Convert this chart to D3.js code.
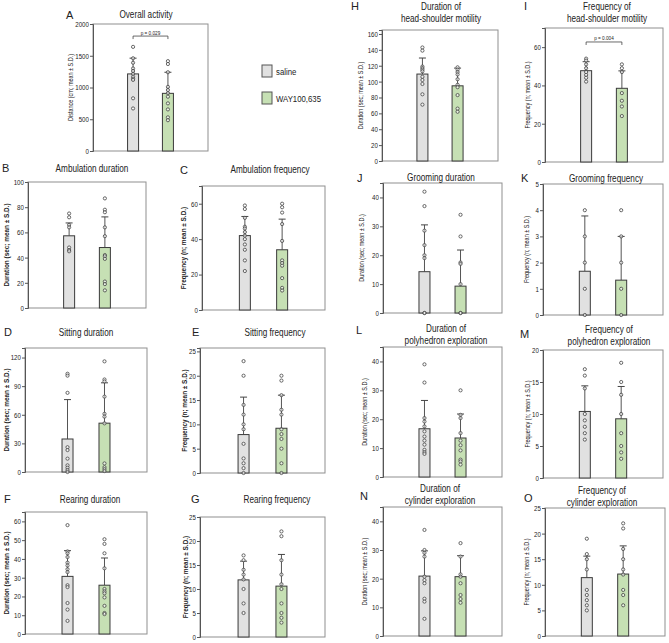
<!DOCTYPE html>
<html>
<head>
<meta charset="utf-8">
<script src="https://cdn.jsdelivr.net/npm/d3@7"></script>
<style>
  body { margin: 0; background: #fff; }
  svg { display: block; }
  text { font-family: "Liberation Sans", Arial, sans-serif; fill: #222; }
</style>
</head>
<body>
<svg id="fig" width="669" height="643"></svg>
<script>
// groups and panels
var groups = ["saline", "WAY100,635"];
var panels = ["A", "B", "C", "D", "E", "F", "G", "H", "I", "J", "K", "L", "M", "N", "O"];
var titles = [
  ["Overall activity"], ["Ambulation duration"], ["Ambulation frequency"],
  ["Sitting duration"], ["Sitting frequency"], ["Rearing duration"], ["Rearing frequency"],
  ["Duration of", "head-shoulder motility"], ["Frequency of", "head-shoulder motility"],
  ["Grooming duration"], ["Grooming frequency"],
  ["Duration of", "polyhedron exploration"], ["Frequency of", "polyhedron exploration"],
  ["Duration of", "cylinder exploration"], ["Frequency of", "cylinder exploration"]
];
var durLabel = "Duration (sec; mean \u00b1 S.D.)", freqLabel = "Frequency (n; mean \u00b1 S.D.)";
var yLabels = ["Distance (cm; mean \u00b1 S.D.)", durLabel, freqLabel, durLabel, freqLabel, durLabel, freqLabel,
  durLabel, freqLabel, durLabel, freqLabel, durLabel, freqLabel, durLabel, freqLabel];
var yMax = [2000, 100, 70, 130, 25.7, 65, 25, 165, 70, 45, 5, 45, 20, 45, 25];
var yStep = [500, 20, 20, 30, 5, 10, 5, 20, 20, 10, 1, 10, 5, 10, 5];

// bar means and SDs
var salineMean = [1214, 57.3, 42, 34.6, 7.9, 30.7, 11.9, 109.5, 47.7, 14.3, 1.67, 16.7, 10.4, 20.9, 11.4];
var salineSD = [248, 10.2, 10.8, 41.3, 7.7, 13.7, 3.9, 20.2, 4.7, 16.2, 2.11, 9.8, 4, 8.8, 4.2];
var wayMean = [908, 48, 34, 51.2, 9.2, 26, 10.6, 94.7, 38.5, 9.3, 1.33, 13.5, 9.25, 20.7, 12.1];
var waySD = [332, 24.3, 17.3, 42.3, 6.8, 14.5, 6.6, 22.3, 9.1, 12.5, 1.67, 8.3, 5.05, 7.3, 5.5];

// individual animals
var salinePoints = [
  [1640, 1460, 1390, 1300, 1260, 1215, 1170, 1140, 1120, 830, 670],
  [75, 72, 66, 64, 48, 46, 45],
  [59, 57, 52, 47, 46, 44, 42, 40, 37, 34, 28, 22],
  [103, 101, 83, 26, 23, 14, 7, 4.5, 2, 0],
  [23, 20, 14, 12, 10, 9, 6, 3, 2, 1, 0],
  [58, 44, 43, 41, 38, 36.5, 34.5, 33, 26, 25, 16.5, 13, 7],
  [17, 16, 14, 13, 12, 10, 7, 5],
  [143, 139, 119, 117, 115, 113, 106, 102, 97, 84, 71],
  [54, 53, 51, 49, 47, 45.5, 44, 42],
  [42, 37, 28.5, 23.5, 20, 19, 0, 0],
  [4, 3, 2, 1, 0],
  [39, 32.7, 20.4, 19.2, 17.5, 15.8, 14, 12.6, 11.2, 9.4, 8.6, 8],
  [17, 16, 14, 10, 9, 8, 7, 6],
  [37, 30, 29, 27.7, 20.7, 19.5, 18.4, 13, 12, 6],
  [19, 16, 15, 13, 9, 8, 7, 6, 5]
];
var wayPoints = [
  [1415, 1370, 1240, 1010, 960, 910, 855, 750, 655, 530, 485],
  [87, 78, 76, 64, 57, 42, 41, 39, 21, 19, 14],
  [60, 58, 55, 48.5, 39, 28, 26.5, 25, 18, 12.5, 11],
  [116, 97, 95, 79, 61, 58, 51, 9, 5, 3, 1],
  [20, 19, 16, 13, 12, 9, 8, 7, 5, 2, 0],
  [50.5, 48, 43, 35, 24, 22.7, 21.7, 19.5, 15, 11.2, 10.6],
  [22, 21, 16, 13, 11, 10, 7, 5, 4, 3],
  [118, 115, 112, 109, 103, 96, 93, 83, 66, 62],
  [51, 49, 47, 36, 32, 29, 24],
  [34, 26.5, 17.5, 17, 10, 0, 0],
  [4, 3, 2, 1, 0],
  [30, 21.5, 20.4, 15.2, 12.6, 11, 9.2, 6, 5.4, 4.3],
  [18, 15, 13, 10, 7, 5, 4, 3],
  [32.4, 27.7, 21.5, 20.7, 18.4, 14.3, 12.9, 11.6],
  [22, 21, 17, 15, 13, 12, 9, 8, 6]
];

// significance brackets: panel, p label, bracket height
var sigPanels = ["A", "I"];
var sigLabels = ["p = 0.029", "p = 0.004"];
var sigLevels = [1810, 62.7];

// layout: plot boxes [x0, y0, x1, y1], y-label x, title [cx, baseline], letter [x, baseline]
var boxes = [
  [93, 24, 208, 151], [28, 182, 146, 308], [202, 186, 325, 310],
  [25, 348, 147, 472], [200, 348, 325, 473], [25, 512, 147, 634], [200, 517, 325, 637],
  [382, 30, 498, 161], [545, 28, 663, 162], [383, 183, 502, 313], [543, 184, 663, 315],
  [383, 347, 502, 477], [543, 350, 663, 478], [383, 507, 502, 636], [545, 508, 665, 636]
];
var labelX = [71, 6, 183, 6, 184, 6, 185, 361, 528, 362, 527, 365, 528, 365, 527];
var titlePos = [[146, 18], [92, 172], [270, 173], [86, 336], [275, 336], [90, 503], [277, 503],
  [441, 10], [607, 10], [441, 181], [606, 182], [446, 332], [609, 333], [440, 492], [602, 494]];
var letterPos = [[66, 19], [2, 172], [180, 174], [4, 336], [192, 336], [4, 503], [191, 503],
  [351, 10], [524, 10], [357, 182], [521, 182], [356, 334], [520, 338], [360, 500], [524, 502]];

var fills = ["#e1e1e1", "#c6e0b4"];
var svg = d3.select("#fig");

// narrow text: Arial-narrow look made by squeezing the regular face
function ntext(parent, x, y, str, size, sx, rot) {
  return parent.append("text")
    .attr("transform", "translate(" + x + "," + y + ")" + (rot ? " rotate(" + rot + ")" : "") + " scale(" + sx + ",1)")
    .style("font-size", size + "px")
    .text(str);
}

panels.forEach(function (id, i) {
  var b = boxes[i];
  var w = b[2] - b[0], h = b[3] - b[1];
  var small = i === 0 || i >= 7;
  var g = svg.append("g").attr("transform", "translate(" + b[0] + "," + b[1] + ")");

  var x = d3.scalePoint().domain(groups).range([0, w]).padding(1.15);
  var y = d3.scaleLinear().domain([0, yMax[i]]).range([h, 0]);

  g.append("rect")
    .attr("width", w).attr("height", h)
    .attr("fill", "none").attr("stroke", "#8f8f8f").attr("stroke-width", 1);

  var ticks = d3.range(0, yMax[i] + 1e-9, yStep[i]);
  var ax = g.append("g")
    .call(d3.axisLeft(y).tickValues(ticks).tickSize(3).tickPadding(2).tickFormat(d3.format("d")));
  ax.select(".domain").attr("stroke", "#555");
  ax.selectAll(".tick line").attr("stroke", "#555");
  ax.selectAll("text").style("font-size", "7.5px").attr("fill", "#333")
    .attr("transform", "scale(0.82,1)");

  var rows = [
    { g: groups[0], m: salineMean[i], sd: salineSD[i], pts: salinePoints[i], c: fills[0] },
    { g: groups[1], m: wayMean[i], sd: waySD[i], pts: wayPoints[i], c: fills[1] }
  ];
  var bw = 11;

  // error bars (upper only)
  rows.forEach(function (r) {
    var cx = x(r.g);
    g.append("line").attr("x1", cx).attr("x2", cx)
      .attr("y1", y(r.m)).attr("y2", y(r.m + r.sd))
      .attr("stroke", "#555").attr("stroke-width", 1);
    g.append("line").attr("x1", cx - 3.5).attr("x2", cx + 3.5)
      .attr("y1", y(r.m + r.sd)).attr("y2", y(r.m + r.sd))
      .attr("stroke", "#444").attr("stroke-width", 1);
  });

  g.selectAll("rect.bar").data(rows).enter().append("rect")
    .attr("class", "bar")
    .attr("x", function (d) { return x(d.g) - bw / 2; })
    .attr("y", function (d) { return y(d.m); })
    .attr("width", bw)
    .attr("height", function (d) { return h - y(d.m); })
    .attr("fill", function (d) { return d.c; })
    .attr("stroke", "#3a3a3a").attr("stroke-width", 1);

  rows.forEach(function (r) {
    g.selectAll(null).data(r.pts).enter().append("circle")
      .attr("cx", x(r.g))
      .attr("cy", function (d) { return y(d); })
      .attr("r", 1.6)
      .attr("fill", "#fff").attr("fill-opacity", 0.6)
      .attr("stroke", "#444").attr("stroke-width", 0.8);
  });

  // significance bracket
  var s = sigPanels.indexOf(id);
  if (s >= 0) {
    var by = y(sigLevels[s]), x0 = x(groups[0]), x1 = x(groups[1]);
    g.append("path")
      .attr("d", "M" + x0 + "," + (by + 3) + "V" + by + "H" + x1 + "V" + (by + 3))
      .attr("fill", "none").attr("stroke", "#444").attr("stroke-width", 0.8);
    ntext(g, (x0 + x1) / 2, by - 1.5, sigLabels[s], 5.5, 0.85).attr("text-anchor", "middle");
  }

  // y label
  ntext(svg, labelX[i], b[1] + h / 2, yLabels[i], small ? 7 : 7.8, small ? 0.78 : 0.82, -90)
    .attr("text-anchor", "middle").attr("dy", "0.35em")
    .style("font-weight", small ? "normal" : "bold");

  // title
  var t = titlePos[i];
  titles[i].forEach(function (line, k) {
    ntext(svg, t[0], t[1] + k * 12, line, 10, 0.82).attr("text-anchor", "middle");
  });

  svg.append("text").attr("x", letterPos[i][0]).attr("y", letterPos[i][1])
    .style("font-size", "11px").text(id);
});

// legend
var leg = svg.append("g").attr("transform", "translate(262,65)");
groups.forEach(function (name, k) {
  leg.append("rect").attr("x", 0).attr("y", k * 27).attr("width", 10).attr("height", 12)
    .attr("fill", fills[k]).attr("stroke", "#555").attr("stroke-width", 1);
  ntext(leg, 14, k * 27 + 9.5, name, 9.5, 0.82);
});
</script>
</body>
</html>
